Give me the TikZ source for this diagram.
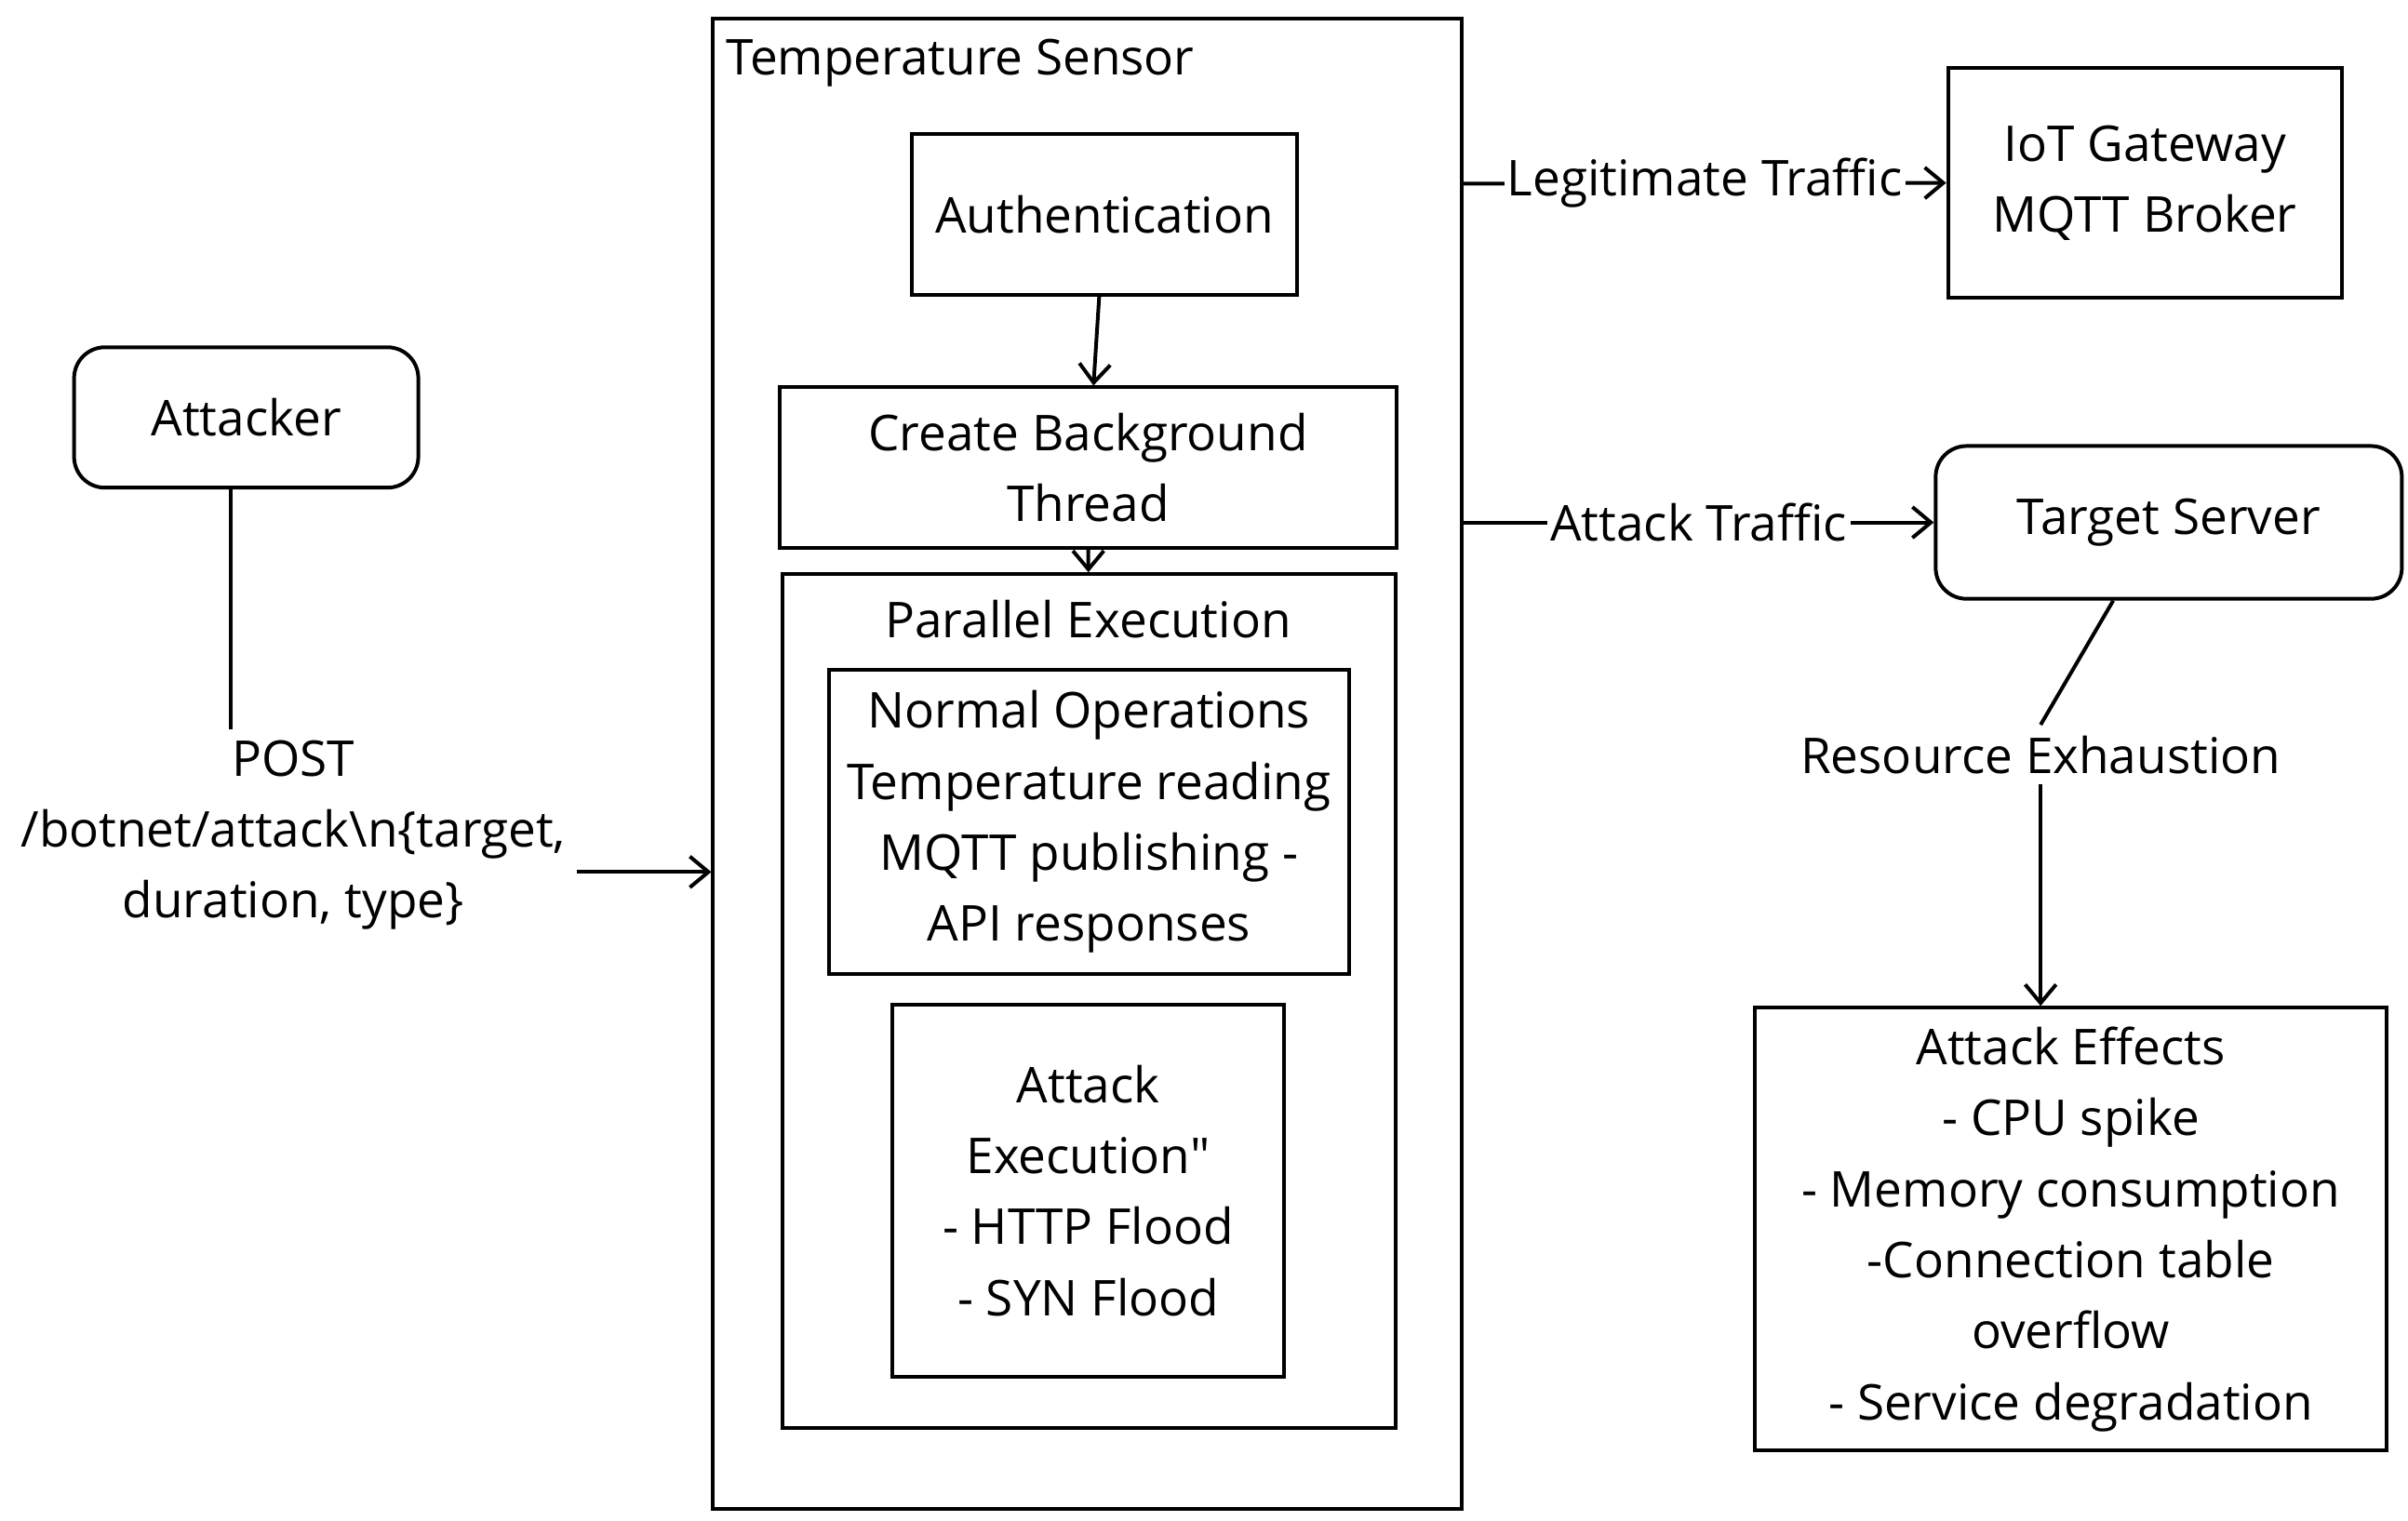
\documentclass[tikz,border=0pt]{standalone}
\usepackage{fontspec}
\setmainfont{Open Sans}
\usetikzlibrary{arrows.meta,positioning}

\begin{document}
\begin{tikzpicture}[x=0.5pt, y=-0.5pt,
   font=\fontsize{16}{23}\selectfont,
   box/.style={draw, line width=1.2pt, align=center, inner sep=0pt},
   rbox/.style={box, rounded corners=10pt},
   edge/.style={line width=1.2pt, -{Straight Barb[length=6pt,width=10pt]}},
   lbl/.style={fill=white, align=center, inner sep=1pt}]
   \useasboundingbox (0,0) rectangle (1560,985);

   % temperature sensor and its inner steps
   \node (sensor) at (704.5,495) [box, minimum width=242.5pt, minimum height=483pt] {};
   \node (sensortitle) at (470,41) [anchor=west, inner sep=0pt] {Temperature Sensor};
   \node (auth) at (715.5,139) [box, minimum width=124.5pt, minimum height=52pt] {Authentication};
   \node (bgthread) at (705,303) [box, minimum width=200pt, minimum height=52pt] {Create Background\\Thread};
   \node (parallel) at (705.5,648.5) [box, minimum width=198.5pt, minimum height=276.5pt] {};
   \node (partitle) at (705,401) {Parallel Execution};
   \node (normal) at (705.5,532.5) [box, minimum width=168.5pt, minimum height=98.5pt]
      {Normal Operations\\Temperature reading\\MQTT publishing -\\API responses};
   \node (attackexec) at (705,771.5) [box, minimum width=127pt, minimum height=120.5pt]
      {Attack\\Execution\textquotedbl\\- HTTP Flood\\- SYN Flood};

   % outside parties
   \node (attacker) at (159.5,270.5) [rbox, minimum width=111.5pt, minimum height=45.5pt] {Attacker};
   \node (iot) at (1389.5,118.5) [box, minimum width=127.5pt, minimum height=74.5pt] {IoT Gateway\\MQTT Broker};
   \node (target) at (1405,338.5) [rbox, minimum width=151pt, minimum height=49.5pt] {Target Server};
   \node (effects) at (1341.5,796.5) [box, minimum width=204.5pt, minimum height=143.5pt]
      {Attack Effects\\- CPU spike\\- Memory consumption\\-Connection table\\overflow\\- Service degradation};

   % connectors
   \node (post) at (190,541) [align=center] {POST\\/botnet/attack\textbackslash n\{target,\\duration, type\}};
   \draw[line width=1.2pt] ([xshift=-5pt]attacker.south) -- ([xshift=-5pt]attacker.south |- post.north);
   \draw[edge] ([yshift=-12pt]post.east) -- ([yshift=-12pt]post.east -| sensor.west);

   \draw[edge] (auth) -- (bgthread);
   \draw[edge] (bgthread) -- (parallel);

   \draw[edge] ([yshift=10pt]auth.east -| sensor.east) -- node[lbl]{Legitimate Traffic} (iot.west);
   \draw[edge] (target.west -| sensor.east) -- node[lbl]{Attack Traffic} (target.west);

   \node (resource) at (1322,489) {Resource Exhaustion};
   \draw[line width=1.2pt] ([xshift=-18pt]target.south) -- (resource.north);
   \draw[edge] (resource.south) -- (resource.south |- effects.north);
\end{tikzpicture}
\end{document}
